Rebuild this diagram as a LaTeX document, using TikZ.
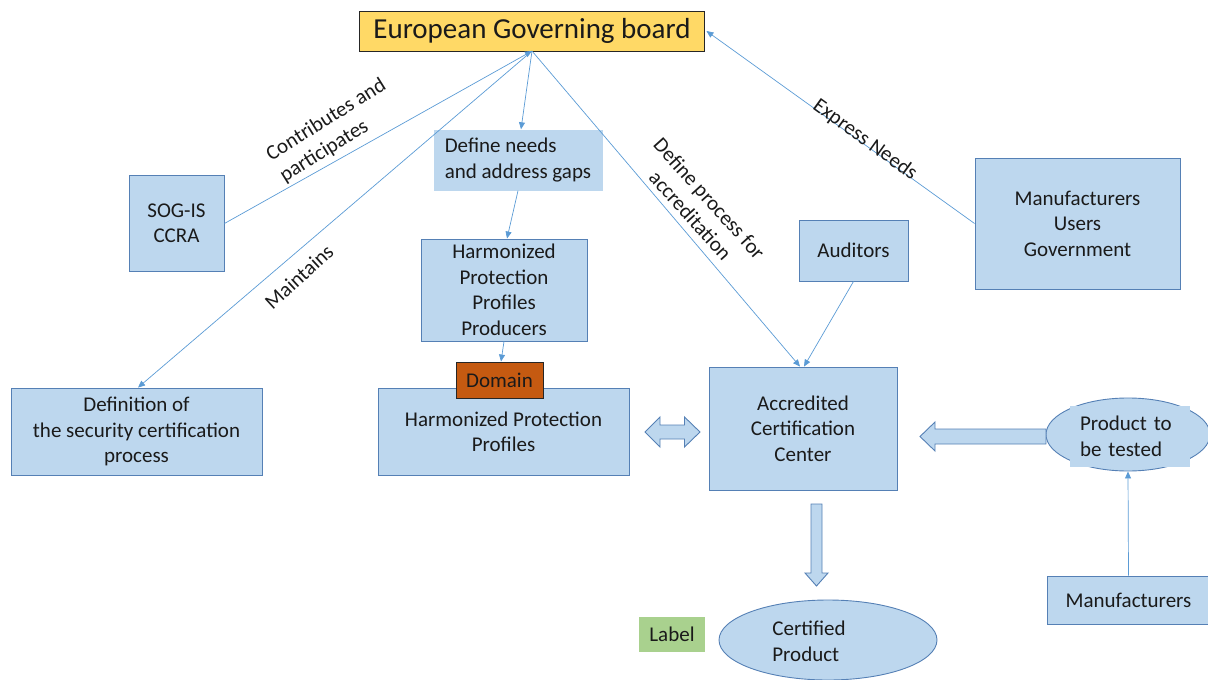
\documentclass[tikz,border=0pt]{standalone}
\usepackage{fontspec}
\setmainfont{Carlito}
\usetikzlibrary{arrows.meta,shapes.geometric}
\definecolor{boxfill}{HTML}{BDD7EE}
\definecolor{boxline}{HTML}{5580B5}
\definecolor{linkblue}{HTML}{5B9BD5}
\definecolor{boardfill}{HTML}{FFD966}
\definecolor{domainfill}{HTML}{C55A11}
\definecolor{labelfill}{HTML}{A9D18E}
\definecolor{inktext}{HTML}{1A1A1A}
\newcommand{\mainsize}{\fontsize{21}{25.5}\selectfont}
\newcommand{\titlesize}{\fontsize{29}{32}\selectfont}
\begin{document}
\begin{tikzpicture}[x=1pt, y=-1pt,
    box/.style={draw=boxline, fill=boxfill, line width=0.9pt, align=center,
      inner sep=0pt, font=\mainsize, text=inktext},
    plainbox/.style={fill=boxfill, align=center, inner sep=0pt, font=\mainsize, text=inktext},
    oval/.style={ellipse, draw=boxline, fill=boxfill, line width=0.9pt, inner sep=0pt},
    link/.style={draw=linkblue, line width=0.7pt, -{Triangle[length=7pt,width=6pt]}},
    edgetext/.style={font=\mainsize, align=center, text=inktext, inner sep=0pt},
    blockarrow/.style={draw=boxline, fill=boxfill, line width=0.9pt, line join=miter}]
    \useasboundingbox (0,0) rectangle (1208,680);

    % boxes
    \node[box, draw=black!85, fill=boardfill, minimum width=345, minimum height=40,
      font=\titlesize] (board) at (532,31) {European Governing board};
    \coordinate (hub) at (532,51);
    \node[box, minimum width=95, minimum height=96] (sogis) at (176.5,223.5) {SOG-IS\\CCRA};
    \node[plainbox, align=left, minimum width=169, minimum height=61] (needs) at (518,160)
      {Define needs\\and address gaps};
    \node[box, minimum width=166, minimum height=102] (producers) at (504,290)
      {Harmonized\\Protection\\Profiles\\Producers};
    \node[box, minimum width=251, minimum height=87] (definition) at (136.5,431.5)
      {Definition of\\the security certification\\process};
    \node[box, minimum width=251, minimum height=87] (hpp) at (503.5,432)
      {Harmonized Protection\\Profiles};
    \node[box, draw=black!85, fill=domainfill, minimum width=87, minimum height=36] (domain)
      at (499.5,380) {Domain};
    \node[box, minimum width=188, minimum height=123] (acc) at (803,428.5)
      {Accredited\\Certification\\Center};
    \node[box, minimum width=109, minimum height=61] (auditors) at (853.5,250.5) {Auditors};
    \node[box, minimum width=205, minimum height=131] (users) at (1077.5,223.5)
      {Manufacturers\\Users\\Government};
    \node[oval, minimum width=164, minimum height=73] (product) at (1128,434.5) {};
    \node[plainbox, align=left, text width=100, minimum width=120, minimum height=61]
      (producttext) at (1130,436.5) {Product to\\be tested};
    \node[box, minimum width=163, minimum height=48] (makers) at (1128.5,600) {Manufacturers};
    \node[oval, minimum width=218, minimum height=80] (certified) at (828,640) {};
    \node[edgetext, align=left] (certtext) at (809,641.5) {Certified\\Product};
    \node[plainbox, fill=labelfill, minimum width=66, minimum height=35] (label)
      at (672,634.5) {Label};

    % block arrows
    \draw[blockarrow] (645,432) -- (660,417) -- (660,425) -- (684.5,425) -- (684.5,417)
      -- (700,432) -- (684.5,447) -- (684.5,439) -- (660,439) -- (660,447) -- cycle;
    \draw[blockarrow] (920,436.5) -- (935,422) -- (935,429) -- (1046,429) -- (1046,444)
      -- (935,444) -- (935,451) -- cycle;
    \draw[blockarrow] (811,504) -- (822,504) -- (822,573) -- (828,573) -- (816.5,586)
      -- (805,573) -- (811,573) -- cycle;

    % connectors
    \draw[link] (sogis.east) -- (hub);
    \draw[link] (hub) -- ([xshift=3]needs.north);
    \draw[link] (hub) -- ([xshift=1.5]definition.north);
    \draw[link] (hub) -- ([xshift=-3]acc.north);
    \draw[link] (auditors.south) -- ([xshift=1]acc.north);
    \draw[link] (users.west) -- ([xshift=1.5]board.east);
    \draw[link] (needs.south) -- ([xshift=3]producers.north);
    \draw[link] (producers.south) -- ([xshift=1.5]domain.north);
    \draw[link] (makers.north) -- (product.south);

    % connector labels
    \node[edgetext, align=left, rotate=32] (contributes) at (333,131) {Contributes and\\participates};
    \node[edgetext, rotate=42.5] (maintains) at (299,277) {Maintains};
    \node[edgetext, rotate=-48] (defineproc) at (700,207) {Define process for\\accreditation};
    \node[edgetext, rotate=-35.8] (express) at (865,140) {Express Needs};
\end{tikzpicture}
\end{document}
